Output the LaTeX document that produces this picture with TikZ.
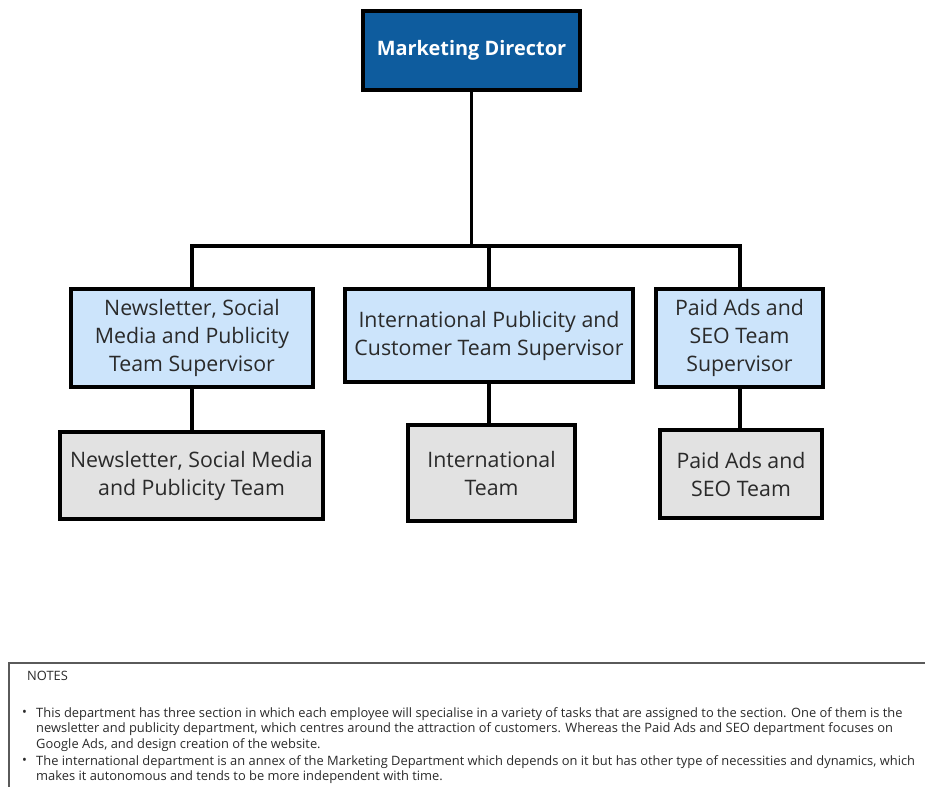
\documentclass[tikz,border=0pt]{standalone}
\usepackage{fontspec}
\setmainfont{Open Sans}
\definecolor{dirblue}{HTML}{0E5C9E}
\definecolor{supblue}{HTML}{CCE4FB}
\definecolor{teamgray}{HTML}{E2E2E2}
\definecolor{boxtext}{HTML}{2A2A2A}
\definecolor{noteframe}{HTML}{5A5A5A}
\newdimen\px \px=0.03cm

\begin{document}
\begin{tikzpicture}[x=0.03cm,y=-0.03cm,
    box/.style={draw=black,line width=3.4pt,align=center,inner sep=0pt,text=boxtext,
      font=\fontsize{18.2}{23.9}\selectfont},
    director/.style={box,fill=dirblue,text=white,font=\fontsize{17}{23.9}\selectfont\bfseries},
    supervisor/.style={box,fill=supblue},
    team/.style={box,fill=teamgray},
    link/.style={line width=3.4pt},
    notetext/.style={inner sep=0pt,anchor=north west,align=left,text=boxtext,
      font=\fontsize{11}{13.2}\selectfont},
    notebullet/.style={notetext,anchor=base west}]
    \useasboundingbox (0,0) rectangle (925,787);
    % top
    \node[director,minimum width=217\px,minimum height=79\px] (director) at (471.5,50.5) {Marketing Director};
    %
    \node[supervisor,minimum width=242\px,minimum height=98\px] (supA) at (192,338)
      {Newsletter, Social\\Media and Publicity\\Team Supervisor};
    \node[supervisor,minimum width=288\px,minimum height=93\px] (supB) at (489,335.5)
      {International Publicity and\\Customer Team Supervisor};
    \node[supervisor,minimum width=167\px,minimum height=98\px] (supC) at (739.5,338)
      {Paid Ads and\\SEO Team\\Supervisor};
    %
    \node[team,minimum width=263\px,minimum height=87\px] (teamA) at (191.5,475.5)
      {Newsletter, Social Media\\and Publicity Team};
    \node[team,minimum width=167\px,minimum height=96\px] (teamB) at (491.5,473)
      {International\\Team};
    \node[team,minimum width=162\px,minimum height=88\px] (teamC) at (741,474)
      {Paid Ads and\\SEO Team};
    % connectors
    \coordinate (bus) at (0,246);
    \draw[link] (director.south) -- (director.south |- bus);
    \draw[link] (supA.north) -- (supA.north |- bus) -- (supC.north |- bus) -- (supC.north);
    \draw[link] (supB.north) -- (supB.north |- bus);
    \draw[link] (supA.south) -- (supA.south |- teamA.north);
    \draw[link] (supB.south) -- (supB.south |- teamB.north);
    \draw[link] (supC.south) -- (supC.south |- teamC.north);
    % notes
    \draw[noteframe,line width=1pt] (9,663) rectangle (940,800);
    \node[notetext] (notes) at (27,671) {NOTES};
    \node[notebullet] (bulletA) at (22,716) {\textbullet};
    \node[notetext] (noteA) at (36,707)
      {This department has three section in which each employee will specialise in a variety of tasks that are assigned to the section. One of them is the\\
       newsletter and publicity department, which centres around the attraction of customers. Whereas the Paid Ads and SEO department focuses on\\
       Google Ads, and design creation of the website.};
    \node[notebullet] (bulletB) at (22,764) {\textbullet};
    \node[notetext] (noteB) at (36,755)
      {The international department is an annex of the Marketing Department which depends on it but has other type of necessities and dynamics, which\\
       makes it autonomous and tends to be more independent with time.};
\end{tikzpicture}
\end{document}
